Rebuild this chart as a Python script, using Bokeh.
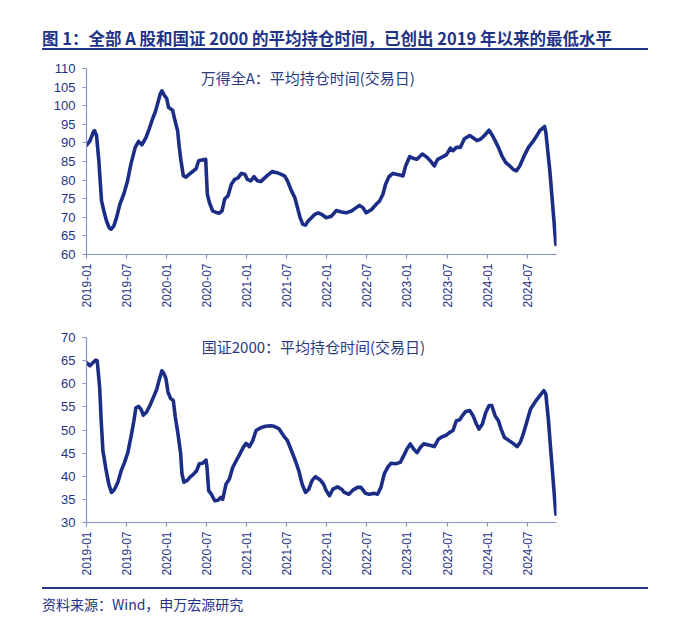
import math
from bokeh.plotting import figure
from bokeh.models import ColumnDataSource, FixedTicker, Div, Label
from bokeh.layouts import column
from bokeh.embed import file_html
from bokeh.resources import INLINE

# ---------------- data ----------------
title_text = "图 1：全部 A 股和国证 2000 的平均持仓时间，已创出 2019 年以来的最低水平"
source_text = "资料来源：Wind，申万宏源研究"
label_a = "万得全A：平均持仓时间(交易日)"
label_b = "国证2000：平均持仓时间(交易日)"

# x tick positions (months since 2019-01) and their labels
tick_months = [0, 6, 12, 18, 24, 30, 36, 42, 48, 54, 60, 66]
tick_labels = ["2019-01", "2019-07", "2020-01", "2020-07", "2021-01", "2021-07",
               "2022-01", "2022-07", "2023-01", "2023-07", "2024-01", "2024-07"]

# Wind All A: average holding period (trading days); x = months since 2019-01
months_a = [0, 0.5, 1.05, 1.2, 1.5, 1.85, 2.25, 2.6, 3.0, 3.4, 3.7, 4.1, 4.5, 5.0, 5.65,
            6.15, 6.65, 7.3, 7.8, 8.3, 8.9, 9.4, 9.9, 10.3, 10.65, 11.05, 11.3, 11.65,
            12.0, 12.3, 12.9, 13.25, 13.65, 13.9, 14.15, 14.5, 14.9, 15.4, 15.9, 16.4,
            16.8, 17.3, 17.85, 18.1, 18.4, 18.9, 19.4, 19.9, 20.3, 20.7, 21.2, 21.7,
            22.2, 22.7, 23.2, 23.7, 24.1, 24.6, 25.1, 25.6, 26.1, 26.7, 27.2, 27.8,
            28.5, 29.1, 29.7, 30.1, 30.7, 31.2, 31.6, 32.0, 32.4, 32.8, 33.2, 33.7,
            34.2, 34.7, 35.2, 35.9, 36.7, 37.4, 38.2, 38.9, 39.7, 40.4, 40.9, 41.4,
            41.9, 42.7, 43.4, 43.9, 44.4, 44.8, 45.3, 45.9, 46.4, 46.9, 47.4, 47.8,
            48.4, 48.9, 49.5, 50.3, 50.9, 51.5, 52.1, 52.6, 53.4, 53.9, 54.5, 54.9,
            55.4, 56.0, 56.6, 57.4, 57.9, 58.5, 59.1, 59.6, 60.3, 60.8, 61.2, 61.7,
            62.2, 62.8, 63.4, 63.9, 64.4, 64.9, 65.5, 66.2, 66.8, 67.3, 67.9, 68.6,
            68.8, 69.4, 69.9, 70.3]
values_a = [89.3, 90.5, 93.0, 93.3, 92.0, 85.2, 74.4, 71.7, 69.0, 67.2, 66.8, 67.7, 69.9,
            73.5, 76.6, 79.8, 84.3, 88.8, 90.4, 89.5, 91.4, 93.8, 96.5, 98.3, 100.5,
            103.2, 104.0, 102.8, 102.0, 99.5, 98.8, 96.0, 93.3, 88.8, 85.2, 81.2, 80.8,
            81.6, 82.3, 83.0, 85.2, 85.4, 85.6, 76.2, 74.0, 71.7, 71.3, 71.1, 71.7,
            74.9, 75.8, 78.9, 80.2, 80.6, 81.8, 81.6, 80.2, 79.8, 80.9, 79.8, 79.6,
            80.6, 81.4, 82.3, 82.0, 81.6, 81.1, 79.8, 77.1, 75.3, 72.6, 69.9, 68.1,
            67.9, 69.0, 69.9, 70.8, 71.2, 70.8, 69.9, 70.3, 71.8, 71.4, 71.2, 71.7,
            72.6, 73.2, 72.6, 71.2, 72.1, 73.5, 74.4, 76.2, 78.9, 80.9, 81.8, 81.6,
            81.4, 81.1, 83.8, 86.3, 85.9, 85.6, 87.0, 86.3, 85.2, 83.8, 85.6, 86.3,
            86.8, 88.6, 87.9, 88.8, 88.8, 91.1, 92.0, 91.4, 90.6, 91.1, 92.0, 93.4,
            92.0, 90.6, 88.8, 86.6, 84.7, 83.8, 82.9, 82.5, 83.8, 86.3, 88.8, 90.2,
            91.5, 93.3, 94.4, 92.9, 82.5, 71.7, 62.7]

# CSI 2000: average holding period (trading days)
months_b = [0, 0.5, 1.0, 1.4, 1.6, 1.97, 2.2, 2.46, 2.95, 3.34, 3.74, 4.2, 4.7, 5.2, 5.7,
            6.2, 6.7, 7.1, 7.4, 7.8, 8.2, 8.5, 9.0, 9.5, 10.0, 10.5, 10.9, 11.3, 11.6,
            11.9, 12.2, 12.6, 13.0, 13.3, 13.7, 14.1, 14.3, 14.6, 15.1, 15.5, 16.0,
            16.5, 16.9, 17.4, 17.9, 18.05, 18.3, 18.7, 19.2, 19.7, 20.1, 20.4, 20.9,
            21.4, 21.9, 22.4, 23.0, 23.5, 23.9, 24.4, 24.9, 25.4, 26.1, 26.8, 27.6,
            28.1, 28.8, 29.5, 30.1, 30.6, 31.3, 31.8, 32.3, 32.8, 33.3, 33.8, 34.3,
            35.0, 35.5, 35.9, 36.4, 36.9, 37.6, 38.2, 38.6, 39.3, 39.9, 40.6, 41.1,
            41.8, 42.3, 43.1, 43.6, 44.1, 44.6, 45.1, 45.6, 46.3, 47.0, 47.5, 48.0,
            48.5, 49.0, 49.5, 50.0, 50.5, 51.1, 51.7, 52.1, 52.7, 53.2, 53.8, 54.4,
            54.9, 55.4, 55.9, 56.3, 56.8, 57.4, 57.9, 58.4, 58.8, 59.3, 59.8, 60.3,
            60.7, 61.2, 61.7, 62.1, 62.6, 63.3, 64.0, 64.5, 65.0, 65.5, 66.0, 66.5,
            67.0, 67.5, 68.0, 68.5, 68.8, 69.2, 69.5, 69.9, 70.3]
values_b = [64.6, 63.9, 64.6, 65.1, 65.0, 59.2, 52.0, 45.5, 41.2, 38.3, 36.5, 37.2, 38.7,
            41.2, 43.0, 45.2, 48.8, 52.0, 54.8, 55.1, 54.4, 53.2, 53.9, 55.3, 57.0,
            58.7, 60.9, 62.8, 62.2, 61.1, 58.2, 56.8, 56.4, 52.8, 49.2, 44.9, 40.5,
            38.7, 39.1, 39.8, 40.4, 41.2, 42.7, 42.8, 43.5, 41.9, 36.9, 36.1, 34.7,
            34.8, 35.4, 35.0, 38.3, 39.4, 41.9, 43.3, 44.9, 46.3, 47.1, 46.4, 47.7,
            49.9, 50.5, 50.8, 50.9, 50.8, 50.3, 48.8, 47.7, 45.9, 43.3, 41.2, 38.3,
            36.5, 37.2, 39.1, 39.9, 39.2, 38.3, 36.9, 35.8, 37.2, 37.7, 37.2, 36.5,
            36.1, 37.0, 37.6, 37.6, 36.3, 36.1, 36.3, 36.1, 37.6, 40.5, 41.9, 42.8,
            42.7, 43.0, 44.4, 45.9, 47.0, 45.9, 45.1, 46.2, 47.0, 46.8, 46.6, 46.4,
            48.0, 48.5, 48.8, 49.5, 49.9, 52.0, 52.2, 53.1, 54.0, 54.2, 53.1, 51.3,
            50.2, 51.3, 53.8, 55.3, 55.3, 53.1, 52.0, 50.2, 48.4, 47.7, 47.0, 46.4,
            47.4, 49.5, 52.0, 54.5, 55.6, 56.7, 57.6, 58.5, 57.8, 52.0, 46.3, 39.1,
            31.8]

y_ticks_a = [60, 65, 70, 75, 80, 85, 90, 95, 100, 105, 110]
y_ticks_b = [30, 35, 40, 45, 50, 55, 60, 65, 70]

# ---------------- styles ----------------
LINE_COLOR = "#1b2d86"
TEXT_COLOR = "#1f3386"
AXIS_COLOR = "#8496c6"
CJK = "Noto Sans CJK SC"
LATIN = "Liberation Sans"
W = 692


def make_chart(xs, ys, yticks, label_text, label_pos, height, border_top, border_left,
               frame_w, border_bottom):
    p = figure(width=W, height=height, title=None, toolbar_location=None,
               output_backend="svg", x_range=(0, 70.4),
               y_range=(yticks[0], yticks[-1]),
               min_border_top=border_top, min_border_left=border_left,
               min_border_bottom=border_bottom,
               min_border_right=W - border_left - frame_w)
    p.outline_line_color = None
    p.background_fill_color = "white"
    p.border_fill_color = "white"
    p.xgrid.visible = False
    p.ygrid.visible = False

    src = ColumnDataSource(dict(x=xs, y=ys))
    p.line("x", "y", source=src, line_color=LINE_COLOR, line_width=3.6,
           line_join="round", line_cap="round")

    p.xaxis.ticker = FixedTicker(ticks=tick_months)
    p.xaxis.major_label_overrides = {m: lab for m, lab in zip(tick_months, tick_labels)}
    p.xaxis.major_label_orientation = math.pi / 2
    p.xaxis.major_label_standoff = 5
    p.yaxis.ticker = FixedTicker(ticks=yticks)
    p.yaxis.major_label_standoff = 7
    for ax in (p.xaxis, p.yaxis):
        ax.axis_line_color = AXIS_COLOR
        ax.axis_line_width = 1.2
        ax.major_tick_line_color = AXIS_COLOR
        ax.major_tick_line_width = 1.2
        ax.major_tick_out = 4
        ax.major_tick_in = 0
        ax.minor_tick_line_color = None
        ax.major_label_text_color = TEXT_COLOR
        ax.major_label_text_font = LATIN
    p.xaxis.major_label_text_font_size = "12px"
    p.yaxis.major_label_text_font_size = "13px"

    lab = Label(x=label_pos[0], y=label_pos[1], text=label_text,
                text_font=CJK, text_font_size="15px", text_color="#2a3a82",
                text_baseline="middle", text_align="left")
    p.add_layout(lab)
    return p


title_div = Div(
    text=(f'<div style="position:relative;width:{W}px;height:56px;">'
          f'<div style="position:absolute;left:42px;top:28px;white-space:nowrap;'
          f"font-family:'{CJK}';font-weight:bold;font-size:16.5px;line-height:20px;"
          f'color:{TEXT_COLOR};">{title_text}</div>'
          f'<div style="position:absolute;left:42px;top:48px;width:606px;height:2px;'
          f'background:#22358a;"></div></div>'),
    width=W, height=56, margin=0)

p1 = make_chart(months_a, values_a, y_ticks_a, label_a, (17.1, 107.7),
                height=266, border_top=12, border_left=86, frame_w=470, border_bottom=68)
p2 = make_chart(months_b, values_b, y_ticks_b, label_b, (17.26, 68.05),
                height=262, border_top=15, border_left=80, frame_w=476, border_bottom=62)

footer_div = Div(
    text=(f'<div style="position:relative;width:{W}px;height:43px;">'
          f'<div style="position:absolute;left:42px;top:3px;width:606px;height:2px;'
          f'background:#22358a;"></div>'
          f'<div style="position:absolute;left:42px;top:11px;white-space:nowrap;'
          f"font-family:'{CJK}';font-size:14px;line-height:18px;"
          f'color:{TEXT_COLOR};">{source_text}</div></div>'),
    width=W, height=43, margin=0)

layout = column(title_div, p1, p2, footer_div, spacing=0)

with open("out.html", "w") as f:
    f.write(file_html(layout, INLINE))
